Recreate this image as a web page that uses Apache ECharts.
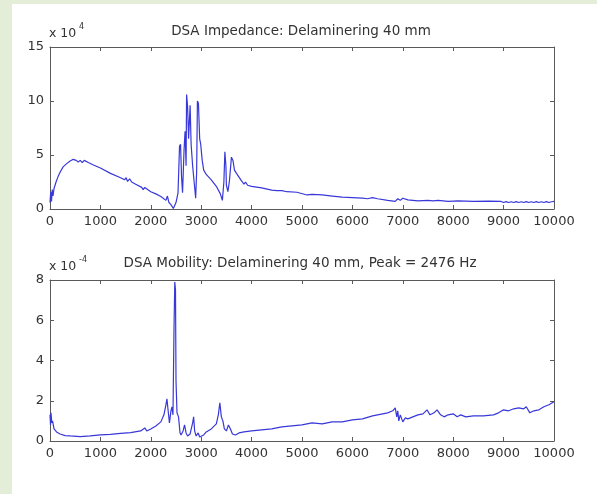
<!DOCTYPE html>
<html>
<head>
<meta charset="utf-8">
<script src="https://cdn.jsdelivr.net/npm/echarts@6/dist/echarts.min.js"></script>
<style>
  html, body { margin: 0; padding: 0; background: #e4edd8; }
  #chart { width: 597px; height: 494px; }
</style>
</head>
<body>
<div id="chart"></div>
<script>
// Impedance spectrum (frequency in Hz, magnitude in units of 10^4)
const impFreq = [0, 15, 30, 45, 60, 80, 120, 160, 200, 260, 330, 400, 460, 520, 560, 600, 640, 680, 760, 850,
  1000, 1200, 1400, 1480, 1510, 1540, 1580, 1620, 1700, 1820, 1850, 1880, 2000, 2100, 2200, 2300, 2330, 2360, 2400, 2447,
  2500, 2540, 2570, 2590, 2610, 2630, 2660, 2680, 2700, 2710, 2730, 2750, 2780, 2800, 2830, 2860, 2890, 2910, 2925, 2945,
  2970, 2990, 3020, 3050, 3100, 3200, 3300, 3380, 3420, 3450, 3470, 3490, 3500, 3530, 3560, 3600, 3630, 3660, 3700, 3800,
  3850, 3880, 3920, 4000, 4200, 4400, 4500, 4600, 4700, 4900, 5100, 5200, 5400, 5600, 5800, 6000, 6200, 6300, 6400, 6500,
  6700, 6850, 6900, 6950, 7000, 7100, 7300, 7500, 7600, 7700, 7900, 8100, 8400, 8700, 8950,
  9000, 9050, 9100, 9150, 9200, 9250, 9300, 9350, 9400, 9450, 9500, 9550, 9600, 9650, 9700, 9750, 9800, 9850, 9900, 9950, 10000];
const impedance = [0.6, 1.6, 0.7, 1.8, 1.2, 1.9, 2.5, 3.0, 3.4, 3.9, 4.2, 4.45, 4.6, 4.5, 4.35, 4.5, 4.3, 4.5, 4.3, 4.1,
  3.8, 3.3, 2.9, 2.7, 2.9, 2.55, 2.8, 2.5, 2.3, 2.0, 1.8, 2.0, 1.6, 1.4, 1.15, 0.8, 1.2, 0.6, 0.4, 0.05,
  0.6, 1.5, 5.8, 6.0, 3.0, 1.5, 5.5, 7.2, 4.0, 10.6, 9.5, 6.5, 9.6, 6.0, 4.0, 2.5, 1.0, 3.5, 10.0, 9.8,
  6.5, 6.0, 4.5, 3.6, 3.2, 2.7, 2.1, 1.4, 0.8, 2.5, 5.3, 4.0, 2.2, 1.6, 2.6, 4.8, 4.5, 3.6, 3.3, 2.6,
  2.3, 2.5, 2.2, 2.1, 1.95, 1.75, 1.7, 1.7, 1.6, 1.55, 1.3, 1.35, 1.3, 1.2, 1.1, 1.05, 1.0, 0.95, 1.05, 0.95,
  0.8, 0.7, 0.95, 0.8, 1.0, 0.85, 0.75, 0.8, 0.75, 0.8, 0.7, 0.75, 0.7, 0.72, 0.7,
  0.6, 0.68, 0.6, 0.67, 0.6, 0.68, 0.6, 0.67, 0.6, 0.68, 0.6, 0.67, 0.6, 0.68, 0.6, 0.67, 0.6, 0.68, 0.6, 0.67, 0.7];

// Mobility spectrum (frequency in Hz, magnitude in units of 10^-4)
const mobFreq = [0, 10, 20, 35, 50, 80, 130, 200, 300, 400, 600, 800, 1000, 1200, 1400, 1600, 1800, 1880, 1920, 2000,
  2100, 2200, 2260, 2300, 2320, 2340, 2370, 2400, 2420, 2440, 2460, 2476, 2490, 2500, 2520, 2550, 2580, 2600, 2640, 2670,
  2700, 2730, 2780, 2830, 2850, 2870, 2900, 2940, 2970, 3000, 3050, 3100, 3200, 3300, 3340, 3370, 3400, 3430, 3460, 3500,
  3540, 3580, 3620, 3680, 3750, 3850, 4000, 4200, 4400, 4600, 4800, 5000, 5200, 5400, 5600, 5800, 6000, 6200, 6400, 6600,
  6700, 6800, 6850, 6880, 6900, 6920, 6950, 7000, 7050, 7100, 7200, 7300, 7400, 7480, 7540, 7620, 7680, 7750, 7820, 7900,
  8000, 8080, 8150, 8250, 8400, 8600, 8800, 8900, 9000, 9100, 9200, 9300, 9400, 9450, 9520, 9600, 9700, 9800, 9900, 10000];
const mobility = [1.3, 0.8, 1.4, 0.9, 1.0, 0.6, 0.45, 0.35, 0.27, 0.25, 0.22, 0.25, 0.3, 0.33, 0.38, 0.42, 0.5, 0.65, 0.5, 0.6,
  0.75, 0.95, 1.3, 1.8, 2.1, 1.6, 0.9, 1.5, 1.7, 1.3, 5.5, 7.9, 7.5, 3.0, 1.4, 1.2, 0.4, 0.3, 0.5, 0.8,
  0.4, 0.25, 0.35, 0.9, 1.2, 0.5, 0.25, 0.4, 0.2, 0.2, 0.3, 0.45, 0.6, 0.85, 1.3, 1.9, 1.2, 1.0, 0.6, 0.5,
  0.8, 0.6, 0.35, 0.3, 0.4, 0.45, 0.5, 0.55, 0.6, 0.7, 0.75, 0.8, 0.9, 0.85, 0.95, 0.95, 1.05, 1.1, 1.25, 1.35,
  1.4, 1.5, 1.65, 1.2, 1.5, 1.0, 1.3, 0.95, 1.15, 1.1, 1.2, 1.3, 1.35, 1.55, 1.3, 1.4, 1.55, 1.3, 1.2, 1.3,
  1.35, 1.2, 1.3, 1.2, 1.25, 1.25, 1.3, 1.4, 1.55, 1.5, 1.6, 1.65, 1.6, 1.7, 1.4, 1.5, 1.55, 1.7, 1.8, 1.95];

const impTitle = 'DSA Impedance: Delaminering 40 mm';
const mobTitle = 'DSA Mobility: Delaminering 40 mm, Peak = 2476 Hz';

const FONT = 'DejaVu Sans';
const BOX = '#5a5a5a';
const LABEL = '#333333';
const LINE = '#3838d8';

const zip = (xs, ys) => xs.map((x, i) => [x, ys[i]]);
const plain = (v) => String(v);

const grids = [
  { left: 50, top: 47, width: 504, height: 162 },
  { left: 50, top: 280, width: 504, height: 161 }
];

function xAxisPair(gridIndex) {
  const common = {
    type: 'value', gridIndex: gridIndex, min: 0, max: 10000, interval: 1000,
    axisLine: { show: true, onZero: false, lineStyle: { color: BOX, width: 1 } },
    axisTick: { show: true, inside: true, length: 4, lineStyle: { color: BOX } },
    splitLine: { show: false }
  };
  return [
    Object.assign({}, common, {
      position: 'bottom',
      axisLabel: { show: true, fontFamily: FONT, fontSize: 13, color: LABEL, margin: 6,
        showMinLabel: true, showMaxLabel: true, formatter: plain }
    }),
    Object.assign({}, common, { position: 'top', axisLabel: { show: false } })
  ];
}

function yAxisPair(gridIndex, max, interval) {
  const common = {
    type: 'value', gridIndex: gridIndex, min: 0, max: max, interval: interval,
    axisLine: { show: true, onZero: false, lineStyle: { color: BOX, width: 1 } },
    axisTick: { show: true, inside: true, length: 4, lineStyle: { color: BOX } },
    splitLine: { show: false }
  };
  return [
    Object.assign({}, common, {
      position: 'left',
      axisLabel: { show: true, fontFamily: FONT, fontSize: 13, color: LABEL, margin: 6,
        showMinLabel: true, showMaxLabel: true, formatter: plain }
    }),
    Object.assign({}, common, { position: 'right', axisLabel: { show: false } })
  ];
}

const chart = echarts.init(document.getElementById('chart'), null, { renderer: 'canvas' });

const option = {
  backgroundColor: '#e4edd8',
  animation: false,
  grid: grids,
  xAxis: [].concat(xAxisPair(0), xAxisPair(1)),
  yAxis: [].concat(yAxisPair(0, 15, 5), yAxisPair(1, 8, 2)),
  graphic: [
    { type: 'rect', z: -10, silent: true, shape: { x: 12, y: 4, width: 590, height: 494 },
      style: { fill: '#ffffff' } },
    { type: 'text', x: 301, y: 31, style: { text: impTitle, font: '13.5px "' + FONT + '"',
      fill: LABEL, textAlign: 'center', textVerticalAlign: 'middle' } },
    { type: 'text', x: 49, y: 34, style: { text: 'x 10', font: '12.5px "' + FONT + '"',
      fill: LABEL, textAlign: 'left', textVerticalAlign: 'middle' } },
    { type: 'text', x: 79, y: 27, style: { text: '4', font: '8px "' + FONT + '"',
      fill: LABEL, textAlign: 'left', textVerticalAlign: 'middle' } },
    { type: 'text', x: 300, y: 263, style: { text: mobTitle, font: '13.5px "' + FONT + '"',
      fill: LABEL, textAlign: 'center', textVerticalAlign: 'middle' } },
    { type: 'text', x: 49, y: 267, style: { text: 'x 10', font: '12.5px "' + FONT + '"',
      fill: LABEL, textAlign: 'left', textVerticalAlign: 'middle' } },
    { type: 'text', x: 79, y: 260, style: { text: '-4', font: '8px "' + FONT + '"',
      fill: LABEL, textAlign: 'left', textVerticalAlign: 'middle' } }
  ],
  series: [
    {
      type: 'line', xAxisIndex: 0, yAxisIndex: 0, data: zip(impFreq, impedance),
      showSymbol: false, lineStyle: { color: LINE, width: 1.2 }, silent: true
    },
    {
      type: 'line', xAxisIndex: 2, yAxisIndex: 2, data: zip(mobFreq, mobility),
      showSymbol: false, lineStyle: { color: LINE, width: 1.2 }, silent: true
    }
  ]
};

chart.setOption(option);
</script>
</body>
</html>
